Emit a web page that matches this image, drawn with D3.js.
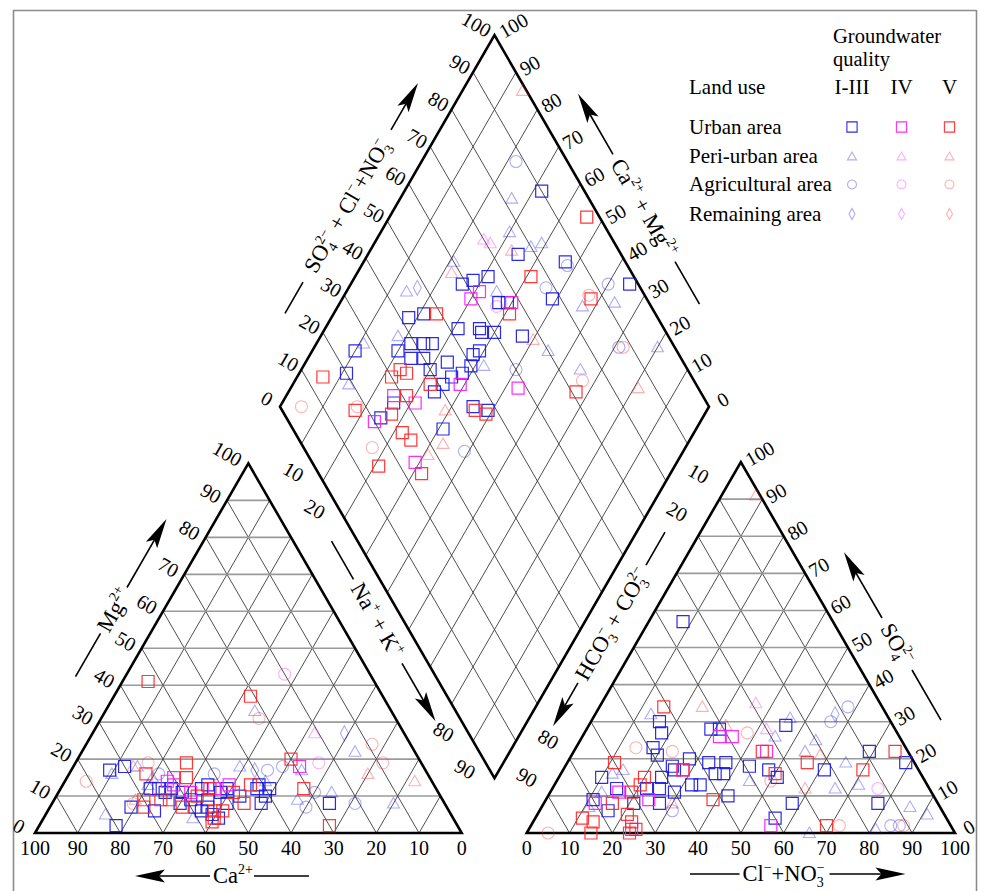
<!DOCTYPE html>
<html><head><meta charset="utf-8">
<script src="https://cdn.jsdelivr.net/npm/d3@7"></script>
<style>body{margin:0;background:#fff}svg{display:block}text{font-family:"Liberation Serif","Times New Roman",serif;fill:#000}</style>
</head><body><svg id="c" width="981" height="891"></svg>
<script>
// ---------------- data ----------------
const landUse = ["Urban area", "Peri-urban area", "Agricultural area", "Remaining area"];
const landCodes = ["U", "P", "A", "R"];
const qualityClasses = ["I-III", "IV", "V"];
const qualityCodes = [1, 4, 5];
const tickValues = [0, 10, 20, 30, 40, 50, 60, 70, 80, 90, 100];
const gapTicks = [10, 20, 80, 90];

// cation triangle: [Ca2+ %, Mg2+ %, land use, quality]
const cationSamples = [
  [70,18,"U",1],[74,17,"U",1],[67,12,"U",1],[65,12,"U",1],[64,11,"U",1],[62,12,"U",1],[60,11,"U",1],[55,12,"U",1],
  [53,13,"U",1],[51,11,"U",1],[49,12,"U",1],[47,10,"U",1],[42,12,"U",1],[41,13,"U",1],[74,7,"U",1],[69,6,"U",1],
  [62,8,"U",1],[59,9,"U",1],[59,7,"U",1],[58,6,"U",1],[56,7,"U",1],[55,4,"U",1],[51,8,"U",1],[43,8,"U",1],
  [80,2,"U",1],[27,8,"U",1],[39,12,"U",1],[41,10,"U",1],[55,9,"U",1],[56,5,"U",1],
  [62,14,"U",4],[60,15,"U",4],[61,13,"U",4],[58,11,"U",4],[52,12,"U",4],[48,13,"U",4],[29,18,"U",4],
  [66,16,"U",5],[55,19,"U",5],[57,15,"U",5],[31,37,"U",5],[53,41,"U",5],[66,9,"U",5],[57,10,"U",5],[53,12,"U",5],
  [48,11,"U",5],[43,13,"U",5],[70,9,"U",5],[71,7,"U",5],[64,9,"U",5],[62,7,"U",5],[56,4,"U",5],[55,6,"U",5],
  [53,6,"U",5],[57,3,"U",5],[47,8,"U",5],[30,20,"U",5],[31,12,"U",5],[30,2,"U",5],
  [74,16,"P",1],[65,15,"P",1],[67,13,"P",1],[43,18,"P",1],[32,33,"P",1],[14,22,"P",1],[29,17,"P",1],[34,9,"P",1],
  [25,11,"P",1],[12,8,"P",1],[39,14,"P",1],[81,5,"P",1],[61,4,"P",1],[67,18,"P",1],
  [21,27,"P",4],
  [68,18,"P",5],[14,16,"P",5],[4,14,"P",5],[72,9,"P",5],
  [37,17,"A",1],[33,18,"A",1],[33,7,"A",1],[29,11,"A",1],[21,8,"A",1],[50,16,"A",1],[63,16,"A",1],
  [20,43,"A",4],[24,19,"A",4],
  [64,19,"A",5],[81,14,"A",5],[32,31,"A",5],[9,24,"A",5],[9,19,"A",5],[73,8,"A",5],
  [40,17,"R",1],[14,27,"R",1]
];

// anion triangle: [Cl-+NO3- %, SO4 2- %, land use, quality]
const anionSamples = [
  [8,57,"U",1],[46,29,"U",1],[16,30,"U",1],[18,27,"U",1],[29,28,"U",1],[31,28,"U",1],[43,18,"U",1],[37,19,"U",1],
  [33,19,"U",1],[28,20,"U",1],[69,22,"U",1],[79,19,"U",1],[61,17,"U",1],[78,8,"U",1],[58,8,"U",1],[56,4,"U",1],
  [51,15,"U",1],[48,17,"U",1],[42,10,"U",1],[38,16,"U",1],[36,16,"U",1],[34,13,"U",1],[32,13,"U",1],[29,11,"U",1],
  [25,18,"U",1],[26,17,"U",1],[24,15,"U",1],[25,12,"U",1],[20,21,"U",1],[18,23,"U",1],[22,12,"U",1],[15,12,"U",1],
  [10,15,"U",1],[27,8,"U",1],[11,9,"U",1],[16,6,"U",1],[21,8,"U",1],
  [32,26,"U",4],[35,26,"U",4],[45,22,"U",4],[28,17,"U",4],[16,11,"U",4],[24,9,"U",4],[12,8,"U",4],[24,1,"U",4],[56,2,"U",4],
  [15,34,"U",5],[44,22,"U",5],[56,19,"U",5],[75,22,"U",5],[70,17,"U",5],[50,16,"U",5],[39,9,"U",5],[28,17,"U",5],
  [20,15,"U",5],[20,13,"U",5],[19,11,"U",5],[11,19,"U",5],[16,8,"U",5],[21,5,"U",5],[23,3,"U",5],[25,1,"U",5],
  [24,0,"U",5],[11,4,"U",5],[14,3,"U",5],[15,0,"U",5],[69,2,"U",5],
  [13,32,"P",1],[46,31,"P",1],[45,26,"P",1],[55,25,"P",1],[54,22,"P",1],[65,19,"P",1],[66,12,"P",1],[71,13,"P",1],
  [86,7,"P",1],[91,5,"P",1],[81,1,"P",1],[66,0,"P",1],[45,14,"P",1],[12,16,"P",1],[14,17,"P",1],[11,7,"P",1],[12,11,"P",1],
  [36,35,"P",4],[42,28,"P",4],
  [8,91,"P",5],[24,34,"P",5],[32,29,"P",5],[58,21,"P",5],[59,12,"P",5],[30,8,"P",5],
  [58,34,"A",1],[56,30,"A",1],[84,2,"A",1],[86,2,"A",1],[31,6,"A",1],
  [76,12,"A",4],
  [38,27,"A",5],[50,14,"A",5],[87,2,"A",5],[72,2,"A",5],[5,0,"A",5],[14,23,"A",5],[23,22,"A",5],
  [56,32,"R",1]
];

// diamond: [SO4 2- + Cl- + NO3- %, Ca2+ + Mg2+ %, land use, quality]
const diamondSamples = [
  [90,68,"U",1],[76,65,"U",1],[86,53,"U",1],[59,74,"U",1],[62,72,"U",1],[66,69,"U",1],[78,51,"U",1],[65,63,"U",1],
  [67,61,"U",1],[98,35,"U",1],[46,79,"U",1],[42,82,"U",1],[52,69,"U",1],[57,64,"U",1],[57,63,"U",1],[60,60,"U",1],
  [66,53,"U",1],[39,78,"U",1],[42,75,"U",1],[44,73,"U",1],[25,90,"U",1],[20,89,"U",1],[35,80,"U",1],[37,76,"U",1],
  [40,73,"U",1],[45,67,"U",1],[40,70,"U",1],[41,65,"U",1],[44,64,"U",1],[47,62,"U",1],[50,61,"U",1],[52,62,"U",1],
  [54,61,"U",1],[45,55,"U",1],[48,51,"U",1],[38,66,"U",1],[27,74,"U",1],[22,75,"U",1],[35,59,"U",1],
  [62,69,"U",4],[59,70,"U",4],[68,60,"U",4],[45,61,"U",4],[58,47,"U",4],[28,75,"U",4],[32,69,"U",4],[20,76,"U",4],[24,61,"U",4],
  [97,54,"U",5],[76,59,"U",5],[66,59,"U",5],[87,42,"U",5],[49,76,"U",5],[14,94,"U",5],[33,77,"U",5],[34,75,"U",5],
  [30,78,"U",5],[38,68,"U",5],[71,33,"U",5],[45,54,"U",5],[47,51,"U",5],[31,72,"U",5],[17,82,"U",5],[25,73,"U",5],
  [25,68,"U",5],[26,65,"U",5],[15,69,"U",5],[24,58,"U",5],
  [82,74,"P",1],[77,70,"P",1],[80,63,"P",1],[83,61,"P",1],[60,79,"P",1],[45,86,"P",1],[66,65,"P",1],[92,36,"P",1],
  [84,43,"P",1],[96,20,"P",1],[70,45,"P",1],[37,82,"P",1],[28,89,"P",1],[19,87,"P",1],[53,58,"P",1],[75,35,"P",1],
  [70,75,"P",4],[71,73,"P",4],
  [99,86,"P",5],[75,67,"P",5],[58,78,"P",5],[86,19,"P",5],[68,50,"P",5],[38,61,"P",5],[33,57,"P",5],[28,59,"P",5],
  [88,78,"A",1],[78,54,"A",1],[93,40,"A",1],[87,29,"A",1],[60,50,"A",1],[37,51,"A",1],[86,52,"A",1],
  [64,63,"A",4],
  [5,95,"A",5],[87,43,"A",5],[88,28,"A",5],[74,33,"A",5],[18,82,"A",5],[16,73,"A",5],
  [48,84,"R",1]
];

// ---------------- layout ----------------
const svg = d3.select("#c");
const S3 = Math.sqrt(3) / 2;
const LT = {x0: 35, y0: 833, s: 426.7}; LT.h = LT.s * S3;
const RT = {x0: 526.7, y0: 833, s: 428.3}; RT.h = RT.s * S3;
const DM = {x0: 280, y0: 406.7, s: 429}; DM.h = DM.s * S3;

const caX = d3.scaleLinear().domain([100, 0]).range([LT.x0, LT.x0 + LT.s]);
const mgY = d3.scaleLinear().domain([0, 100]).range([LT.y0, LT.y0 - LT.h]);
const mgShift = d3.scaleLinear().domain([0, 100]).range([0, -LT.s / 2]);
const catPos = (ca, mg) => [caX(ca) + mgShift(mg), mgY(mg)];

const clX = d3.scaleLinear().domain([0, 100]).range([RT.x0, RT.x0 + RT.s]);
const so4Y = d3.scaleLinear().domain([0, 100]).range([RT.y0, RT.y0 - RT.h]);
const so4Shift = d3.scaleLinear().domain([0, 100]).range([0, RT.s / 2]);
const anPos = (cl, so4) => [clX(cl) + so4Shift(so4), so4Y(so4)];

const dX = d3.scaleLinear().domain([0, 200]).range([DM.x0, DM.x0 + DM.s]);
const dY = d3.scaleLinear().domain([-100, 100]).range([DM.y0 - DM.h, DM.y0 + DM.h]);
const diaPos = (a, camg) => { const n = 100 - camg; return [dX(n + a), dY(n - a)]; };

const colorOf = {1: "#1414e6", 4: "#ff14ff", 5: "#ff2222"};
const fontFam = '"Liberation Serif","Times New Roman",serif';

// frame
const frame = svg.append("g").attr("stroke", "#8c8c8c").attr("stroke-width", 1.6);
frame.append("line").attr("x1", 13).attr("y1", 10.5).attr("x2", 976.5).attr("y2", 10.5);
frame.append("line").attr("x1", 13.5).attr("y1", 10).attr("x2", 13.5).attr("y2", 891);
frame.append("line").attr("x1", 976.5).attr("y1", 10).attr("x2", 976.5).attr("y2", 891);

const gridG = svg.append("g");
function seg(p, q, cls) {
  const l = gridG.append("line").attr("x1", p[0]).attr("y1", p[1]).attr("x2", q[0]).attr("y2", q[1]);
  if (cls === "h") l.attr("stroke", "#9a9a9a").attr("stroke-width", 1.6);
  else l.attr("stroke", "#3a3a3a").attr("stroke-width", 0.9);
}
const inner = d3.range(10, 100, 10);
inner.forEach(k => {
  seg(catPos(100 - k, k), catPos(0, k), "h");
  seg(catPos(k, 0), catPos(k, 100 - k));
  seg(catPos(100 - k, 0), catPos(0, 100 - k));
  seg(anPos(0, k), anPos(100 - k, k), "h");
  seg(anPos(k, 0), anPos(k, 100 - k));
  seg(anPos(100 - k, 0), anPos(0, 100 - k));
  seg(diaPos(k, 0), diaPos(k, 100));
  seg(diaPos(0, k), diaPos(100, k));
});

const outline = svg.append("g").attr("fill", "none").attr("stroke", "#000").attr("stroke-width", 2.6).attr("stroke-linejoin", "miter");
outline.append("path").attr("d", d3.line()([catPos(100, 0), catPos(0, 100), catPos(0, 0)]) + "Z");
outline.append("path").attr("d", d3.line()([anPos(0, 0), anPos(0, 100), anPos(100, 0)]) + "Z");
outline.append("path").attr("d", d3.line()([diaPos(0, 100), diaPos(100, 100), diaPos(100, 0), diaPos(0, 0)]) + "Z");

// ---------------- markers ----------------
function shapePath(code, k) {
  k = k || 1;
  if (code === "U") { const a = 6 * k; return `M${-a},${-a}H${a}V${a}H${-a}Z`; }
  if (code === "P") { const w = 6 * k, t = 6 * k, b = 4.5 * k; return `M0,${-t}L${w},${b}L${-w},${b}Z`; }
  if (code === "A") { const r = 6 * k; return `M${r},0A${r},${r} 0 1,1 ${-r},0A${r},${r} 0 1,1 ${r},0Z`; }
  const w = 4 * k, t = 7.5 * k; return `M0,${-t}L${w},0L0,${t}L${-w},0Z`;
}
function drawPoints(data, posFn) {
  const g = svg.append("g");
  const order = ["P", "A", "R", "U"];
  const sorted = data.slice().sort((a, b) => order.indexOf(a[2]) - order.indexOf(b[2]));
  g.selectAll("path").data(sorted).join("path")
    .attr("d", d => shapePath(d[2]))
    .attr("transform", d => { const p = posFn(d[0], d[1]); return `translate(${p[0]},${p[1]})`; })
    .attr("fill", "none")
    .attr("stroke", d => colorOf[d[3]])
    .attr("stroke-width", d => d[2] === "U" ? 1.2 : 1.1)
    .attr("stroke-opacity", d => d[2] === "U" ? 0.9 : 0.35);
}
drawPoints(cationSamples, catPos);
drawPoints(anionSamples, anPos);
drawPoints(diamondSamples, diaPos);

// ---------------- tick labels ----------------
const labG = svg.append("g").attr("font-size", 20).attr("font-family", fontFam);
function tick(x, y, rot, txt) {
  labG.append("text").attr("transform", `translate(${x},${y}) rotate(${rot})`)
    .attr("text-anchor", "middle").attr("y", 6.8).text(txt);
}
tickValues.forEach(k => {
  let p = catPos(100 - k, k); const e = k === 100 ? 5 : 0;
  tick(p[0] - 16 - e, p[1] - 7 - e / 2, 30, k);
  tick(caX(k), 848, 0, k);
  tick(clX(k), 848, 0, k);
  p = anPos(100 - k, k);
  tick(p[0] + 14 + e, p[1] - 6 - e / 2, -30, k);
  p = diaPos(k, 100);
  tick(p[0] - 13 - e, p[1] - 8 - e / 2, 30, k);
  p = diaPos(100, k);
  tick(p[0] + 14 + e, p[1] - 7 - e / 2, -30, k);
});
gapTicks.forEach(k => {
  let p = diaPos(0, 100 - k);
  tick(p[0] - 8, p[1] + 28, 30, k);
  p = diaPos(100 - k, 0);
  tick(p[0] + 11, p[1] + 29 + 0.08 * k, 30, k);
});

// ---------------- axis titles ----------------
function rich(g, parts, fs) {
  const t = g.append("text").attr("font-size", fs).attr("text-anchor", "middle").attr("y", 0.33 * fs);
  let cur = 0;
  parts.forEach(([s, k]) => {
    let target = 0, size = fs, dx = 0;
    if (k === "sup") { target = -0.42 * fs; size = 0.62 * fs; }
    else if (k === "sub") { target = 0.24 * fs; size = 0.62 * fs; }
    else if (k === "ssup") { target = -0.42 * fs; size = 0.62 * fs; dx = -0.31 * fs; }
    const ts = t.append("tspan").attr("font-size", size).attr("dy", target - cur).text(s);
    if (dx) ts.attr("dx", dx);
    cur = target;
  });
}
function arrowLine(g, a, b) {
  const dir = Math.sign(b - a);
  const hl = 30, hw = 6.5;
  g.append("line").attr("x1", a).attr("y1", 0).attr("x2", b - dir * hl * 0.6).attr("y2", 0)
    .attr("stroke", "#000").attr("stroke-width", 1.6);
  g.append("path").attr("d", `M${b},0L${b - dir * hl},${-hw}L${b - dir * hl * 0.8},0L${b - dir * hl},${hw}Z`).attr("fill", "#000");
}
function plainLine(g, a, b) {
  g.append("line").attr("x1", a).attr("y1", 0).attr("x2", b).attr("y2", 0).attr("stroke", "#000").attr("stroke-width", 1.6);
}
function axisTitle(cx, cy, rot, parts, lines, arrow, fs) {
  const g = svg.append("g").attr("transform", `translate(${cx},${cy}) rotate(${rot})`).attr("font-family", fontFam);
  lines.forEach(l => plainLine(g, l[0], l[1]));
  arrowLine(g, arrow[0], arrow[1]);
  rich(g, parts, fs || 22.5);
}
axisTitle(114, 610, -60, [["Mg", ""], ["2+", "sup"]], [[-77, -27]], [26, 105]);
axisTitle(233, 876, 0, [["Ca", ""], ["2+", "sup"]], [[21, 76]], [-23, -98]);
axisTitle(783.5, 874, 0, [["Cl", ""], ["−", "sup"], ["+NO", ""], ["3", "sub"], ["−", "ssup"]], [[-93.5, -44]], [46, 122]);
axisTitle(897, 644, 60, [["SO", ""], ["4", "sub"], ["2−", "ssup"]], [[30, 88]], [-30, -106]);
axisTitle(347, 206, -60, [["SO", ""], ["4", "sub"], ["2−", "ssup"], [" + Cl", ""], ["−", "sup"], ["+NO", ""], ["3", "sub"], ["−", "ssup"]], [[-124, -88]], [88, 142]);
axisTitle(644, 208, 60, [["Ca", ""], ["2+", "sup"], [" + Mg", ""], ["2+", "sup"]], [[62, 111]], [-62, -132]);
axisTitle(377, 620, 60, [["Na", ""], ["+", "sup"], [" + K", ""], ["+", "sup"]], [[-91, -47]], [50, 117]);
axisTitle(612, 624, -60, [["HCO", ""], ["3", "sub"], ["−", "ssup"], [" + CO", ""], ["3", "sub"], ["2−", "ssup"]], [[68, 106]], [-68, -118]);

// ---------------- legend ----------------
const lg = svg.append("g").attr("font-family", fontFam).attr("font-size", 21);
lg.append("text").attr("x", 833).attr("y", 43).attr("font-size", 20.5).text("Groundwater");
lg.append("text").attr("x", 833).attr("y", 66).attr("font-size", 20.5).text("quality");
lg.append("text").attr("x", 689).attr("y", 94).text("Land use");
const qx = [852, 901.5, 949.5];
qualityClasses.forEach((q, i) => lg.append("text").attr("x", qx[i]).attr("y", 94).attr("text-anchor", "middle").text(q));
const rowY = [127, 156.5, 184.5, 214];
landUse.forEach((name, r) => {
  lg.append("text").attr("x", 689).attr("y", rowY[r] + 6.5).text(name);
  qualityCodes.forEach((q, i) => {
    lg.append("path").attr("d", shapePath(landCodes[r], landCodes[r] === "U" ? 0.85 : 0.75))
      .attr("transform", `translate(${qx[i]},${rowY[r]})`)
      .attr("fill", "none").attr("stroke", colorOf[q]).attr("stroke-width", 1.1)
      .attr("stroke-opacity", landCodes[r] === "U" ? 0.9 : 0.35);
  });
});
</script></body></html>
